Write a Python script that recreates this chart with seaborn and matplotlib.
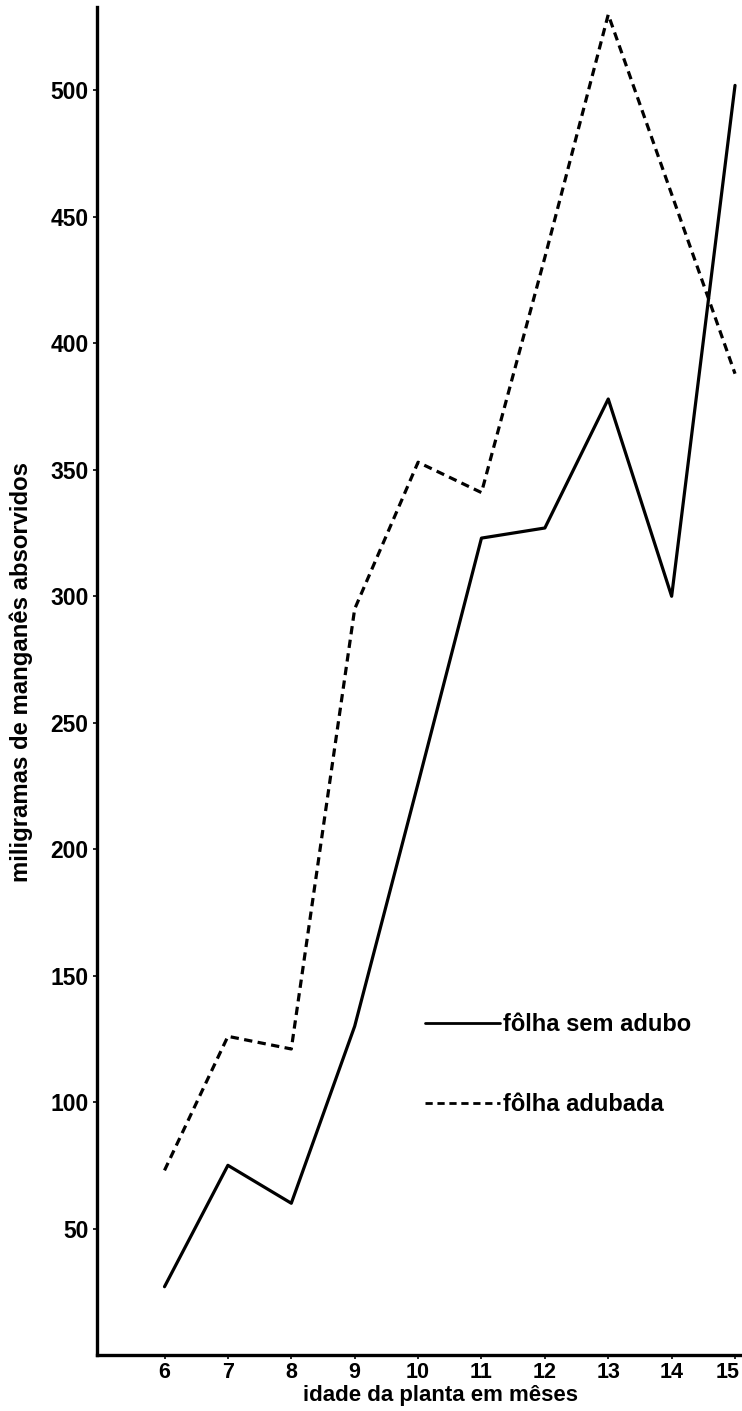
import numpy as np
import pandas as pd
import matplotlib
matplotlib.use("Agg")
import matplotlib.pyplot as plt
import matplotlib.transforms as mtransforms
import seaborn as sns

# ---- data ----
meses = [6, 7, 8, 9, 10, 11, 12, 13, 14, 15]
sem_adubo = [27, 75, 60, 130, 226, 323, 327, 378, 300, 502]
adubada = [73, 126, 121, 295, 353, 341, 434, 530, 459, 388]
serie_nomes = ["fôlha sem adubo", "fôlha adubada"]
y_ticks = [50, 100, 150, 200, 250, 300, 350, 400, 450, 500]
x_label = "idade da planta em mêses"
y_label = "miligramas de manganês absorvidos"

df = pd.DataFrame({
    "mes": meses * 2,
    "mg": sem_adubo + adubada,
    "serie": [serie_nomes[0]] * len(meses) + [serie_nomes[1]] * len(meses),
})

sns.set_theme(style="ticks")
plt.rcParams["font.family"] = ["Liberation Sans", "DejaVu Sans"]
plt.rcParams["font.weight"] = "bold"
for k in ["text.color", "axes.labelcolor", "xtick.color", "ytick.color",
          "xtick.labelcolor", "ytick.labelcolor", "axes.edgecolor"]:
    plt.rcParams[k] = "black"

fig = plt.figure(figsize=(7.42, 14.11), dpi=100)
ax = fig.add_axes([97 / 742, 1 - 1355 / 1411, 645 / 742, 1348 / 1411])

sns.lineplot(
    data=df, x="mes", y="mg", hue="serie", style="serie",
    palette={serie_nomes[0]: "black", serie_nomes[1]: "black"},
    dashes={serie_nomes[0]: "", serie_nomes[1]: (2.6, 1.7)},
    linewidth=2.3, ax=ax, legend=True,
)

ax.set_xlim(4.935, 15.11)
ax.set_ylim(0, 533)
ax.set_xticks(meses)
ax.set_yticks(y_ticks)
ax.tick_params(axis="y", length=3, width=1.2, labelsize=16.5, pad=3, colors="black")
ax.tick_params(axis="x", length=3, width=1.2, labelsize=15.5, pad=2, colors="black")
for lab in ax.get_xticklabels() + ax.get_yticklabels():
    lab.set_fontweight("bold")
    lab.set_color("black")
last = ax.get_xticklabels()[-1]
last.set_transform(last.get_transform() +
                   mtransforms.ScaledTranslation(-7 / 100, 0, fig.dpi_scale_trans))

for s in ["top", "right"]:
    ax.spines[s].set_visible(False)
for s in ["left", "bottom"]:
    ax.spines[s].set_linewidth(2.4)
    ax.spines[s].set_color("black")

ax.set_xlabel(x_label, fontsize=16, fontweight="bold", color="black")
ax.xaxis.set_label_coords(0.533, -0.0225)
ax.set_ylabel(y_label, fontsize=17.2, fontweight="bold", color="black")
ax.yaxis.set_label_coords(-0.099, 0.507)

leg = ax.legend(
    loc="upper left", bbox_to_anchor=(0.508, 0.2535), frameon=False,
    handlelength=3.18, handletextpad=0.14, labelspacing=2.41,
    borderpad=0, borderaxespad=0,
    prop={"size": 17, "weight": "bold"},
)
for h in leg.get_lines():
    h.set_linewidth(2.0)
for t in leg.get_texts():
    t.set_color("black")

fig.savefig("out.png", dpi=100, facecolor="white")
